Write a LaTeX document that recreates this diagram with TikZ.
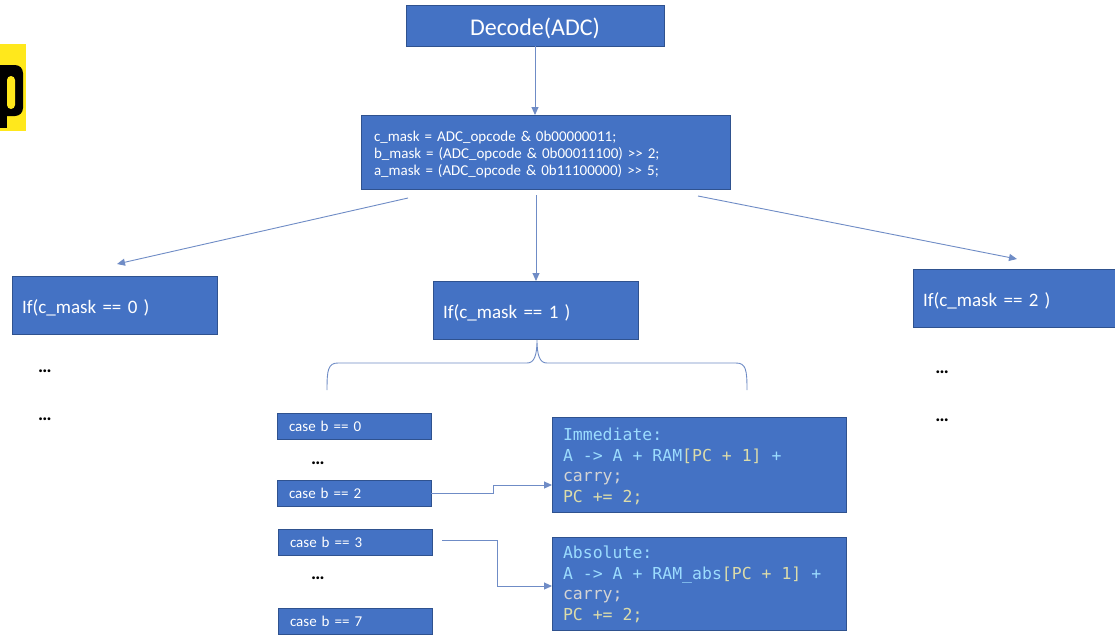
\documentclass[tikz,border=0pt]{standalone}
\usepackage{fontspec}
\setmainfont{Carlito}
\newfontfamily\mono{DejaVu Sans Mono}
\usetikzlibrary{arrows.meta}
\definecolor{boxfill}{HTML}{4472C4}
\definecolor{boxline}{HTML}{2F528F}
\definecolor{conncol}{HTML}{6F8CC6}
\definecolor{ylw}{HTML}{FFE81C}
\definecolor{cblue}{HTML}{9CDCFE}
\definecolor{cyel}{HTML}{DCDCAA}
\definecolor{cgray}{HTML}{D4D4D4}
\newcommand\msp{\hspace*{0.602em}}
\newcommand\lowerby[2]{\raisebox{-#1}[\height][\depth]{#2}}
\newcommand\lines[1]{\begin{tabular}{@{}l@{}}#1\end{tabular}}
\begin{document}
\begin{tikzpicture}[x=1pt,y=-1pt,
  box/.style={draw=boxline, line width=1pt, fill=boxfill, text=white, inner sep=0pt, outer sep=0pt},
  ifbox/.style={box, minimum height=58pt, text width=185pt, inner xsep=10pt, align=left, font=\fontsize{19}{23}\selectfont},
  casebox/.style={box, minimum height=26pt, text width=130pt, inner xsep=12pt, align=left, font=\fontsize{15}{18}\selectfont},
  codebox/.style={box, text width=272pt, inner xsep=11pt, align=left, font=\mono\fontsize{16.5}{20.5}\selectfont, text=cgray},
  dots/.style={font=\bfseries\fontsize{19}{20}\selectfont, inner sep=0pt},
  conn/.style={draw=conncol, line width=0.9pt},
  arr/.style={conn, -{Triangle[length=8pt,width=7pt]}}
]
\clip (0,0) rectangle (1115,635);
\fill[white] (0,0) rectangle (1115,635);

% yellow corner with letter p
\fill[ylw] (0,44) rectangle (26,131);
\fill[black, rounded corners=8pt] (-12,65) rectangle (23,116);
\fill[black] (-12,75) rectangle (7,128);
\fill[ylw, rounded corners=4pt] (7,76) rectangle (15,109);

% boxes
\node[box, minimum width=258pt, minimum height=41pt, font=\fontsize{24}{28}\selectfont] (decode) at (535,25.5) {\lowerby{3pt}{Decode(ADC)}};
\node[box, minimum height=74pt, text width=343pt, inner xsep=13pt, align=left, font=\fontsize{15}{17}\selectfont] (mask) at (545.5,152)
  {\lowerby{3pt}{\lines{c\_mask = ADC\_opcode \& 0b00000011;\\
   b\_mask = (ADC\_opcode \& 0b00011100) >\kern0pt> 2;\\
   a\_mask = (ADC\_opcode \& 0b11100000) >\kern0pt> 5;}}};

\node[ifbox] (if0) at (114.5,305) {\lowerby{2.5pt}{If(c\_mask == 0 )}};
\node[ifbox] (if1) at (535.5,310) {\lowerby{2.5pt}{If(c\_mask == 1 )}};
\node[ifbox, text width=187pt] (if2) at (1016.5,298) {\lowerby{2.5pt}{If(c\_mask == 2 )}};

\node[casebox] (case0) at (354,426) {case b == 0};
\node[casebox] (case2) at (354,493) {case b == 2};
\node[casebox] (case3) at (355,542) {case b == 3};
\node[casebox] (case7) at (355,621) {case b == 7};

\node[codebox, minimum height=95pt] (imm) at (699,464.5)
  {\lowerby{3pt}{\lines{\textcolor{cblue}{Immediate:}\\
   \textcolor{cblue}{A\msp->\msp A\msp+\msp RAM}\textcolor{cyel}{[PC\msp+\msp 1]}\textcolor{cblue}{\msp+}\\
   carry;\\
   \textcolor{cyel}{PC\msp+=\msp 2;}}}};
\node[codebox, minimum height=93pt] (abs) at (699,583.5)
  {\lowerby{2pt}{\lines{\textcolor{cblue}{Absolute:}\\
   \textcolor{cblue}{A\msp->\msp A\msp+\msp RAM\_abs}\textcolor{cyel}{[PC\msp+\msp 1]}\textcolor{cblue}{\msp+}\\
   carry;\\
   \textcolor{cyel}{PC\msp+=\msp 2;}}}};

% dots
\node[dots] (d1) at (45,371) {…};
\node[dots] (d2) at (45,419) {…};
\node[dots] (d3) at (942,372) {…};
\node[dots] (d4) at (942,420) {…};
\node[dots] (d5) at (318,463) {…};
\node[dots] (d6) at (318,578) {…};

% connectors
\draw[arr] (decode.south) -- (decode.south |- mask.north);
\coordinate (mL) at (408,198);
\coordinate (tL) at (117,264);
\draw[arr] (mL) -- (tL);
\coordinate (mM) at (536,195);
\draw[arr] (mM) -- (mM |- if1.north);
\coordinate (mR) at (698,196);
\coordinate (tR) at (1017,259);
\draw[arr] (mR) -- (tR);

% brace
\coordinate (tip) at (537,340);
\draw[conn] (327,390) .. controls (327,370) and (328,363) .. (338,363) -- (527,363)
  .. controls (534,363) and (537,356) .. (tip)
  .. controls (537,356) and (540,363) .. (547,363) -- (736,363)
  .. controls (746,363) and (747,370) .. (747,390);

% case connectors
\draw[arr] (case2.east) -- (case2.east -| 493,0) |- (imm.west |- 0,485);
\coordinate (c3) at (442,540);
\draw[arr] (c3) -- (497,540) |- (abs.west |- 0,586);
\end{tikzpicture}
\end{document}
